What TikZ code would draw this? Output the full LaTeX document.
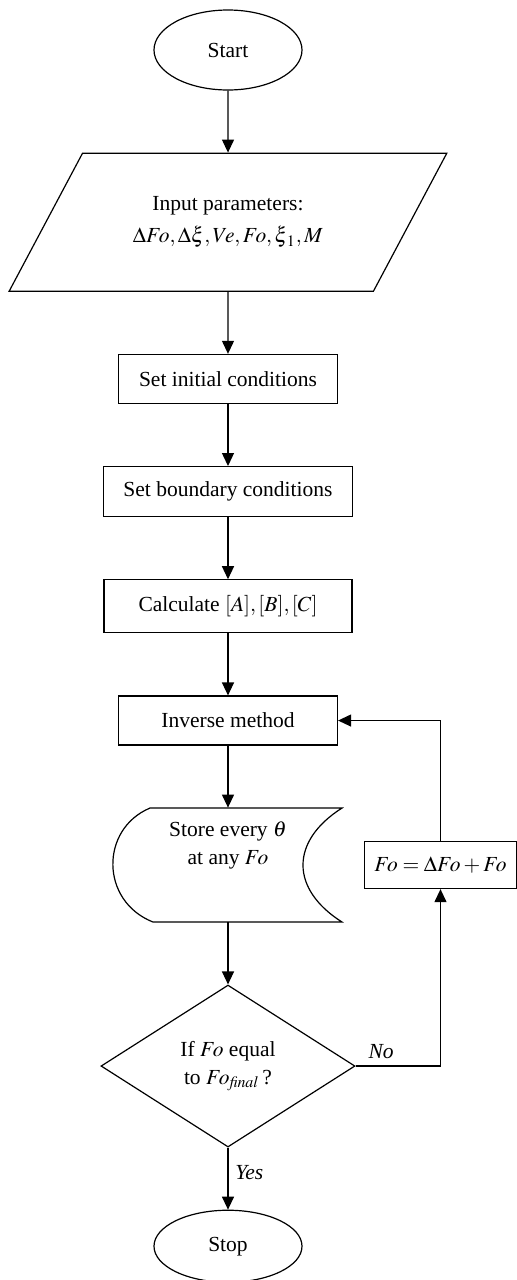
\documentclass[tikz,border=0pt]{standalone}
\usepackage{amsmath}
\usepackage{mathptmx}
\usepackage{fontspec}
\setmainfont{Liberation Serif}
\usepackage{tikz}
\usetikzlibrary{shapes.geometric, arrows.meta, positioning}
\tikzstyle{arrow} = [line width=0.6pt,-{Triangle[width=6pt,length=6.5pt]}]
\tikzstyle{terminal} = [draw,line width=0.6pt,ellipse,minimum width=74pt,minimum height=40pt]
\tikzstyle{io} = [draw,line width=0.6pt,trapezium,trapezium left angle=51.4,trapezium right angle=128.6,trapezium stretches=true,minimum width=219pt,minimum height=69pt,align=center]
\tikzstyle{process} = [draw,line width=0.6pt,rectangle,minimum height=24.5pt]
\tikzstyle{storage} = [rectangle,minimum width=114.5pt,minimum height=57pt]
\tikzstyle{decision} = [draw,line width=0.6pt,diamond,minimum width=127pt,minimum height=81pt,inner sep=0pt,align=center]

\begin{document}
\begin{tikzpicture}[auto,node distance=31pt,font=\fontsize{10.75pt}{14pt}\selectfont]
    \useasboundingbox (-114pt,-615pt) rectangle (144.5pt,25pt);

    \node[terminal] (start) at (0,0) {Start};
    \node[io, below=of start] (input) {Input parameters:\\[2pt] $\Delta Fo,\Delta\xi,Ve,Fo,\xi_{\,1},M$};
    \node[process, below=of input, minimum width=109.5pt] (init) {Set initial conditions};
    \node[process, below=of init, minimum width=124.5pt, minimum height=25pt] (bound) {Set boundary conditions};
    \node[process, below=of bound, minimum width=124pt, minimum height=26.5pt] (calc) {Calculate $[A],[B],[C]$};
    \node[process, below=of calc, minimum width=109.5pt] (inverse) {Inverse method};
    \node[storage, below=of inverse] (store) {};
    \node[align=center] (storetext) at ([yshift=10pt]store.center) {Store every $\theta$\\ at any $Fo$};
    \node[process, right=10.5pt of store, minimum width=76pt, minimum height=23.5pt] (update) {$Fo=\Delta Fo+Fo$};
    \node[decision, below=of store] (check) {If $Fo$ equal\\ to $Fo_{\mathit{final}}$\,?};
    \node[terminal, below=of check, minimum height=36pt] (stop) {Stop};

    % stored data outline
    \draw[line width=0.6pt, shift={(store.center)}] (-39pt,28.5pt) -- (57pt,28.5pt)
        .. controls (31pt,12pt) and (31pt,-12pt) .. (57pt,-28.5pt) -- (-37.5pt,-28.5pt)
        .. controls (-64pt,-18pt) and (-64pt,18pt) .. (-39pt,28.5pt);

    \draw[arrow] (start) -- (input);
    \draw[arrow] (input) -- (init);
    \draw[arrow] (init) -- (bound);
    \draw[arrow] (bound) -- (calc);
    \draw[arrow] (calc) -- (inverse);
    \draw[arrow] (inverse) -- (store);
    \draw[arrow] (store) -- (check);
    \draw[arrow] (check) -- node[pos=0.4,right] {\textit{Yes}} (stop);
    \draw[arrow] (check.east) -| node[pos=0.15,above] {\textit{No}} (update.south);
    \draw[arrow] (update.north) |- (inverse.east);
\end{tikzpicture}
\end{document}
